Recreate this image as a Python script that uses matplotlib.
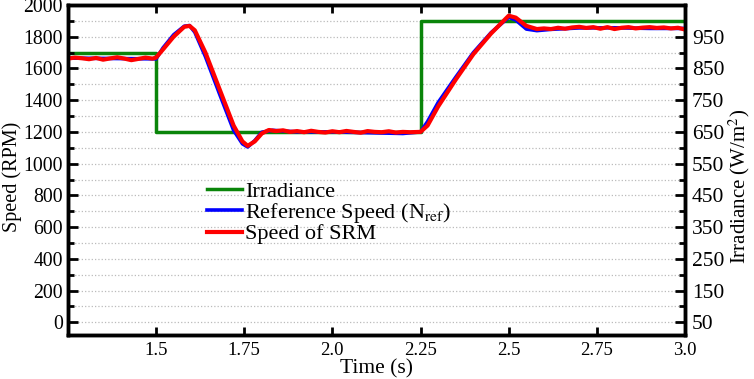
import matplotlib
matplotlib.use("Agg")
import matplotlib.pyplot as plt
from matplotlib.ticker import MultipleLocator, FixedLocator

plt.rcParams['font.family'] = ['Liberation Serif', 'DejaVu Serif']
plt.rcParams['mathtext.fontset'] = 'stix'

# Irradiance (W/m^2), step profile
t_irr = [1.25, 1.5, 2.25, 3.0]
irr = [900, 650, 1000, 1000]

# Reference speed (RPM)
t_ref = [1.25, 1.50, 1.52, 1.55, 1.58, 1.595, 1.61, 1.64, 1.68, 1.72, 1.745, 1.76,
         1.78, 1.80, 1.83, 1.90, 2.00, 2.10, 2.20, 2.25, 2.27, 2.30, 2.35, 2.40,
         2.45, 2.50, 2.52, 2.55, 2.58, 2.62, 2.70, 2.80, 2.90, 3.00]
n_ref = [1665, 1660, 1730, 1812, 1866, 1870, 1828, 1675, 1440, 1210, 1125, 1105,
         1145, 1198, 1210, 1200, 1200, 1195, 1190, 1200, 1265, 1385, 1545, 1700,
         1825, 1922, 1905, 1848, 1838, 1846, 1855, 1856, 1852, 1852]

# Measured speed of SRM (RPM)
t_srm = [1.25, 1.27, 1.29, 1.31, 1.33, 1.35, 1.37, 1.39, 1.41, 1.43, 1.45, 1.47,
         1.49, 1.50, 1.52, 1.55, 1.58, 1.595, 1.61, 1.64, 1.68, 1.72, 1.745, 1.76,
         1.78, 1.80, 1.82, 1.84, 1.86, 1.88, 1.90, 1.92, 1.94, 1.96, 1.98, 2.00,
         2.02, 2.04, 2.06, 2.08, 2.10, 2.12, 2.14, 2.16, 2.18, 2.20, 2.22, 2.25,
         2.27, 2.30, 2.35, 2.40, 2.45, 2.50, 2.52, 2.55, 2.58, 2.60, 2.62, 2.64,
         2.66, 2.68, 2.70, 2.72, 2.74, 2.76, 2.78, 2.80, 2.82, 2.84, 2.86, 2.88,
         2.90, 2.92, 2.94, 2.96, 2.98, 3.00]
n_srm = [1662, 1668, 1664, 1658, 1666, 1655, 1663, 1670, 1662, 1652, 1660, 1668,
         1662, 1668, 1720, 1800, 1862, 1868, 1840, 1700, 1470, 1240, 1140, 1112,
         1140, 1190, 1212, 1205, 1210, 1200, 1205, 1198, 1207, 1200, 1196, 1204,
         1198, 1206, 1200, 1195, 1205, 1200, 1198, 1204, 1196, 1200, 1198, 1200,
         1240, 1360, 1530, 1690, 1820, 1932, 1920, 1868, 1848, 1852, 1848, 1856,
         1850, 1858, 1862, 1855, 1860, 1850, 1860, 1848, 1856, 1860, 1852, 1857,
         1860, 1855, 1858, 1852, 1856, 1845]

x_ticks = [1.5, 1.75, 2.0, 2.25, 2.5, 2.75, 3.0]
x_labels = ['1.5', '1.75', '2.0', '2.25', '2.5', '2.75', '3.0']
irr_major = [50, 150, 250, 350, 450, 550, 650, 750, 850, 950]
irr_minor = [100, 200, 300, 400, 500, 600, 700, 800, 900, 1000]

fig = plt.figure(figsize=(7.54, 3.79), dpi=100)
ax1 = fig.add_axes([0.090, 0.116, 0.8185, 0.871])
ax2 = ax1.twinx()
ax1.set_zorder(2)
ax1.patch.set_visible(False)

l_irr, = ax2.plot(t_irr, irr, color='#0a850a', lw=2.5, drawstyle='steps-post')
l_ref, = ax1.plot(t_ref, n_ref, color='#0000ff', lw=2.6)
l_srm, = ax1.plot(t_srm, n_srm, color='#ff0000', lw=3.0)

ax1.set_xlim(1.25, 3.0)
ax1.set_ylim(-80, 2000)
ax2.set_ylim(10, 1050)

ax1.xaxis.set_major_locator(FixedLocator(x_ticks))
ax1.set_xticklabels(x_labels)
ax1.yaxis.set_major_locator(MultipleLocator(200))
ax1.yaxis.set_minor_locator(MultipleLocator(100))
ax2.yaxis.set_major_locator(FixedLocator(irr_major))
ax2.yaxis.set_minor_locator(FixedLocator(irr_minor))

# grid drawn on the back axes so it stays under all lines
ax2.xaxis.set_major_locator(FixedLocator(x_ticks))
ax2.grid(True, which='major', axis='x', color='#bbbbbb', ls=':', lw=0.9)
ax2.grid(True, which='both', axis='y', color='#bbbbbb', ls=':', lw=0.9)

ax1.tick_params(axis='both', which='both', direction='in', width=2)
ax1.tick_params(axis='x', top=True, length=6, pad=5, labelsize=13.5)
ax1.tick_params(axis='y', which='major', length=7, right=False, labelsize=14.2)
ax1.tick_params(axis='y', which='minor', length=4, right=False)
ax2.tick_params(axis='y', which='both', direction='in', labelsize=15.5, width=2)
ax2.tick_params(axis='y', which='major', length=7, pad=5)
ax2.tick_params(axis='y', which='minor', length=4)

for ax in (ax1, ax2):
    for s in ax.spines.values():
        s.set_linewidth(2.5)

ax1.set_xlabel('Time (s)', fontsize=15.5, labelpad=0)
ax1.set_ylabel('Speed (RPM)', fontsize=14.5)
ax1.yaxis.set_label_coords(-0.074, 0.48)
ax2.set_ylabel('Irradiance (W/m$^2$)', fontsize=15)
ax2.yaxis.set_label_coords(1.068, 0.45)

ax1.legend([l_irr, l_ref, l_srm],
           ['Irradiance', 'Reference Speed (N$_{\\mathrm{ref}}$)', 'Speed of SRM'],
           loc='upper left', bbox_to_anchor=(0.225, 0.465), frameon=False,
           fontsize=16, handlelength=1.6, handletextpad=0.12, labelspacing=-0.05,
           borderpad=0, borderaxespad=0)

fig.savefig('out.png', dpi=100)
